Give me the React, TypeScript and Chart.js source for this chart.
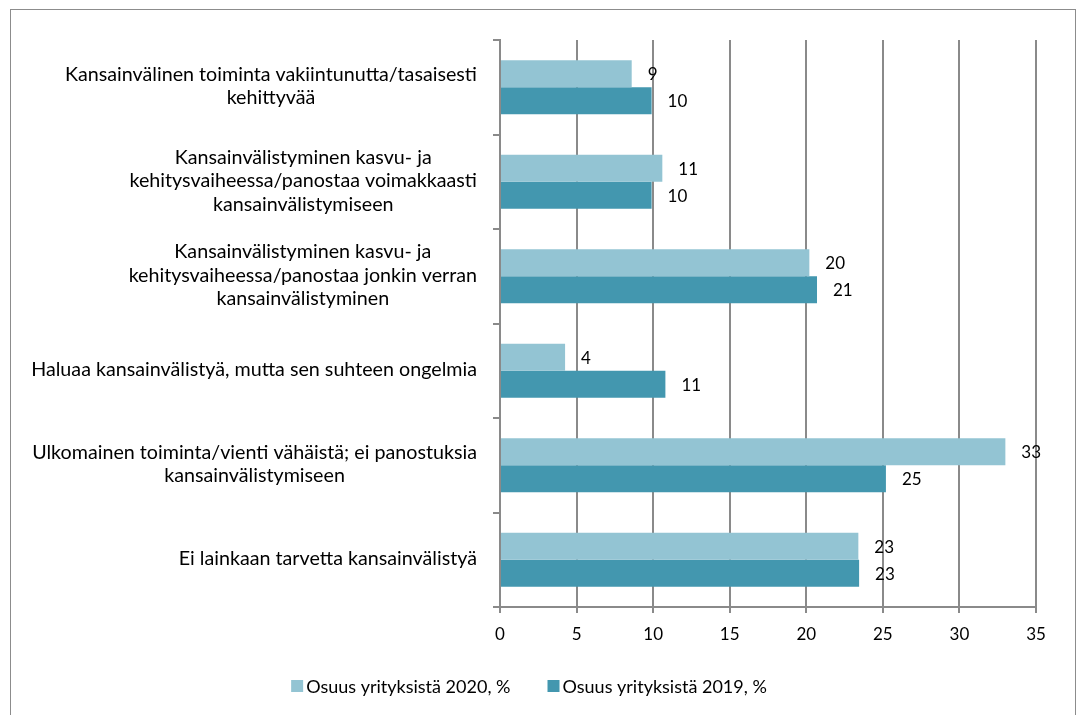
import React, { useEffect, useRef } from "react";
import { Chart, registerables } from "chart.js";

Chart.register(...registerables);

const categories: string[][] = [
  ["Kansainvälinen toiminta vakiintunutta/tasaisesti", "kehittyvää"],
  ["Kansainvälistyminen kasvu- ja", "kehitysvaiheessa/panostaa voimakkaasti", "kansainvälistymiseen"],
  ["Kansainvälistyminen kasvu- ja", "kehitysvaiheessa/panostaa jonkin verran", "kansainvälistyminen"],
  ["Haluaa kansainvälistyä, mutta sen suhteen ongelmia"],
  ["Ulkomainen toiminta/vienti vähäistä; ei panostuksia", "kansainvälistymiseen"],
  ["Ei lainkaan tarvetta kansainvälistyä"],
];
const values2020 = [8.6, 10.6, 20.2, 4.25, 33.0, 23.4];
const values2019 = [9.9, 9.9, 20.7, 10.8, 25.2, 23.45];
const seriesNames = ["Osuus yrityksistä 2020, %", "Osuus yrityksistä 2019, %"];
const xTicks = [0, 5, 10, 15, 20, 25, 30, 35];

const FONT_FAMILY = "Lato, 'Noto Sans', sans-serif";
const NUM_SIZE = 17;
const LABEL_SIZE = 19.7;
const LEGEND_SIZE = 18;
const GRID = "#8a8a8a";
const LIGHT = "#93C4D3";
const DARK = "#4397AF";

const customDraw = {
  id: "customDraw",
  afterDraw(chart: any) {
    const ctx = chart.ctx as CanvasRenderingContext2D;
    ctx.save();
    ctx.fillStyle = "#000";
    // category labels: block right-aligned, lines centered within block
    ctx.font = `${LABEL_SIZE}px ${FONT_FAMILY}`;
    const yScale = chart.scales.y;
    const right = 477;
    const lineH = 23.5;
    categories.forEach((lines, i) => {
      const cy = yScale.getPixelForValue(i) - 1;
      const widths = lines.map((l) => ctx.measureText(l).width);
      const maxW = Math.max(...widths);
      const cx = right - maxW / 2;
      ctx.textAlign = "center";
      ctx.textBaseline = "middle";
      lines.forEach((l, k) => {
        const y = cy + (k - (lines.length - 1) / 2) * lineH;
        ctx.fillText(l, cx, y);
      });
    });
    // data labels
    ctx.font = `${NUM_SIZE}px ${FONT_FAMILY}`;
    ctx.textAlign = "left";
    ctx.textBaseline = "middle";
    chart.data.datasets.forEach((ds: any, di: number) => {
      const meta = chart.getDatasetMeta(di);
      meta.data.forEach((bar: any, i: number) => {
        const v = ds.data[i];
        ctx.fillText(String(Math.round(v)), bar.x + 16, bar.y + 1);
      });
    });
    // legend
    ctx.font = `${LEGEND_SIZE}px ${FONT_FAMILY}`;
    const legendCx = 529;
    const legendY = 686;
    const box = 12;
    const gap = 3;
    const spacing = 37;
    const w = chart.data.datasets.map((ds: any) => ctx.measureText(ds.label).width);
    const total =
      w.reduce((a: number, b: number) => a + b, 0) +
      chart.data.datasets.length * (box + gap) +
      spacing * (chart.data.datasets.length - 1);
    let x = legendCx - total / 2;
    chart.data.datasets.forEach((ds: any, di: number) => {
      ctx.fillStyle = ds.backgroundColor;
      ctx.fillRect(x, legendY - box / 2, box, box);
      x += box + gap;
      ctx.fillStyle = "#000";
      ctx.textAlign = "left";
      ctx.fillText(ds.label, x, legendY + 1);
      x += w[di] + spacing;
    });
    ctx.restore();
  },
};

export default function App() {
  const ref = useRef<HTMLCanvasElement | null>(null);
  useEffect(() => {
    if (!ref.current) return;
    const chart = new Chart(ref.current, {
      type: "bar",
      data: {
        labels: categories.map((c) => c.join(" ")),
        datasets: [
          {
            label: seriesNames[0],
            data: values2020,
            backgroundColor: LIGHT,
            borderWidth: 0,
            categoryPercentage: 0.571,
            barPercentage: 1.0,
          },
          {
            label: seriesNames[1],
            data: values2019,
            backgroundColor: DARK,
            borderWidth: 0,
            categoryPercentage: 0.571,
            barPercentage: 1.0,
          },
        ],
      },
      options: {
        indexAxis: "y",
        responsive: false,
        animation: false,
        layout: { padding: { left: 492, right: 41, top: 40, bottom: 0 } },
        plugins: {
          legend: { display: false },
          tooltip: { enabled: false },
        },
        scales: {
          x: {
            type: "linear",
            min: xTicks[0],
            max: xTicks[xTicks.length - 1],
            afterBuildTicks: (s: any) => {
              s.ticks = xTicks.map((v) => ({ value: v }));
            },
            ticks: {
              font: { family: FONT_FAMILY, size: NUM_SIZE },
              color: "#000",
              padding: 11,
            },
            grid: { color: GRID, lineWidth: 2, tickLength: 6 },
            border: { color: GRID, width: 2 },
            afterFit: (s: any) => {
              s.height = 108;
            },
          },
          y: {
            type: "category",
            ticks: { display: false },
            grid: {
              drawOnChartArea: false,
              drawTicks: true,
              tickLength: 7,
              color: GRID,
              lineWidth: 2,
              offset: true,
            },
            border: { display: true, color: GRID, width: 2 },
            afterFit: (s: any) => {
              s.width = 8;
            },
          },
        },
      },
      plugins: [customDraw],
    });
    return () => chart.destroy();
  }, []);

  return (
    <>
      <div
        style={{
          position: "absolute",
          left: 10,
          top: 9,
          width: 1066,
          height: 706,
          boxSizing: "border-box",
          border: "1px solid #8c8c8c",
          borderBottom: "none",
        }}
      />
      <canvas
        ref={ref}
        width={1077}
        height={715}
        style={{ position: "absolute", left: 0, top: 0, width: 1077, height: 715 }}
      />
    </>
  );
}
